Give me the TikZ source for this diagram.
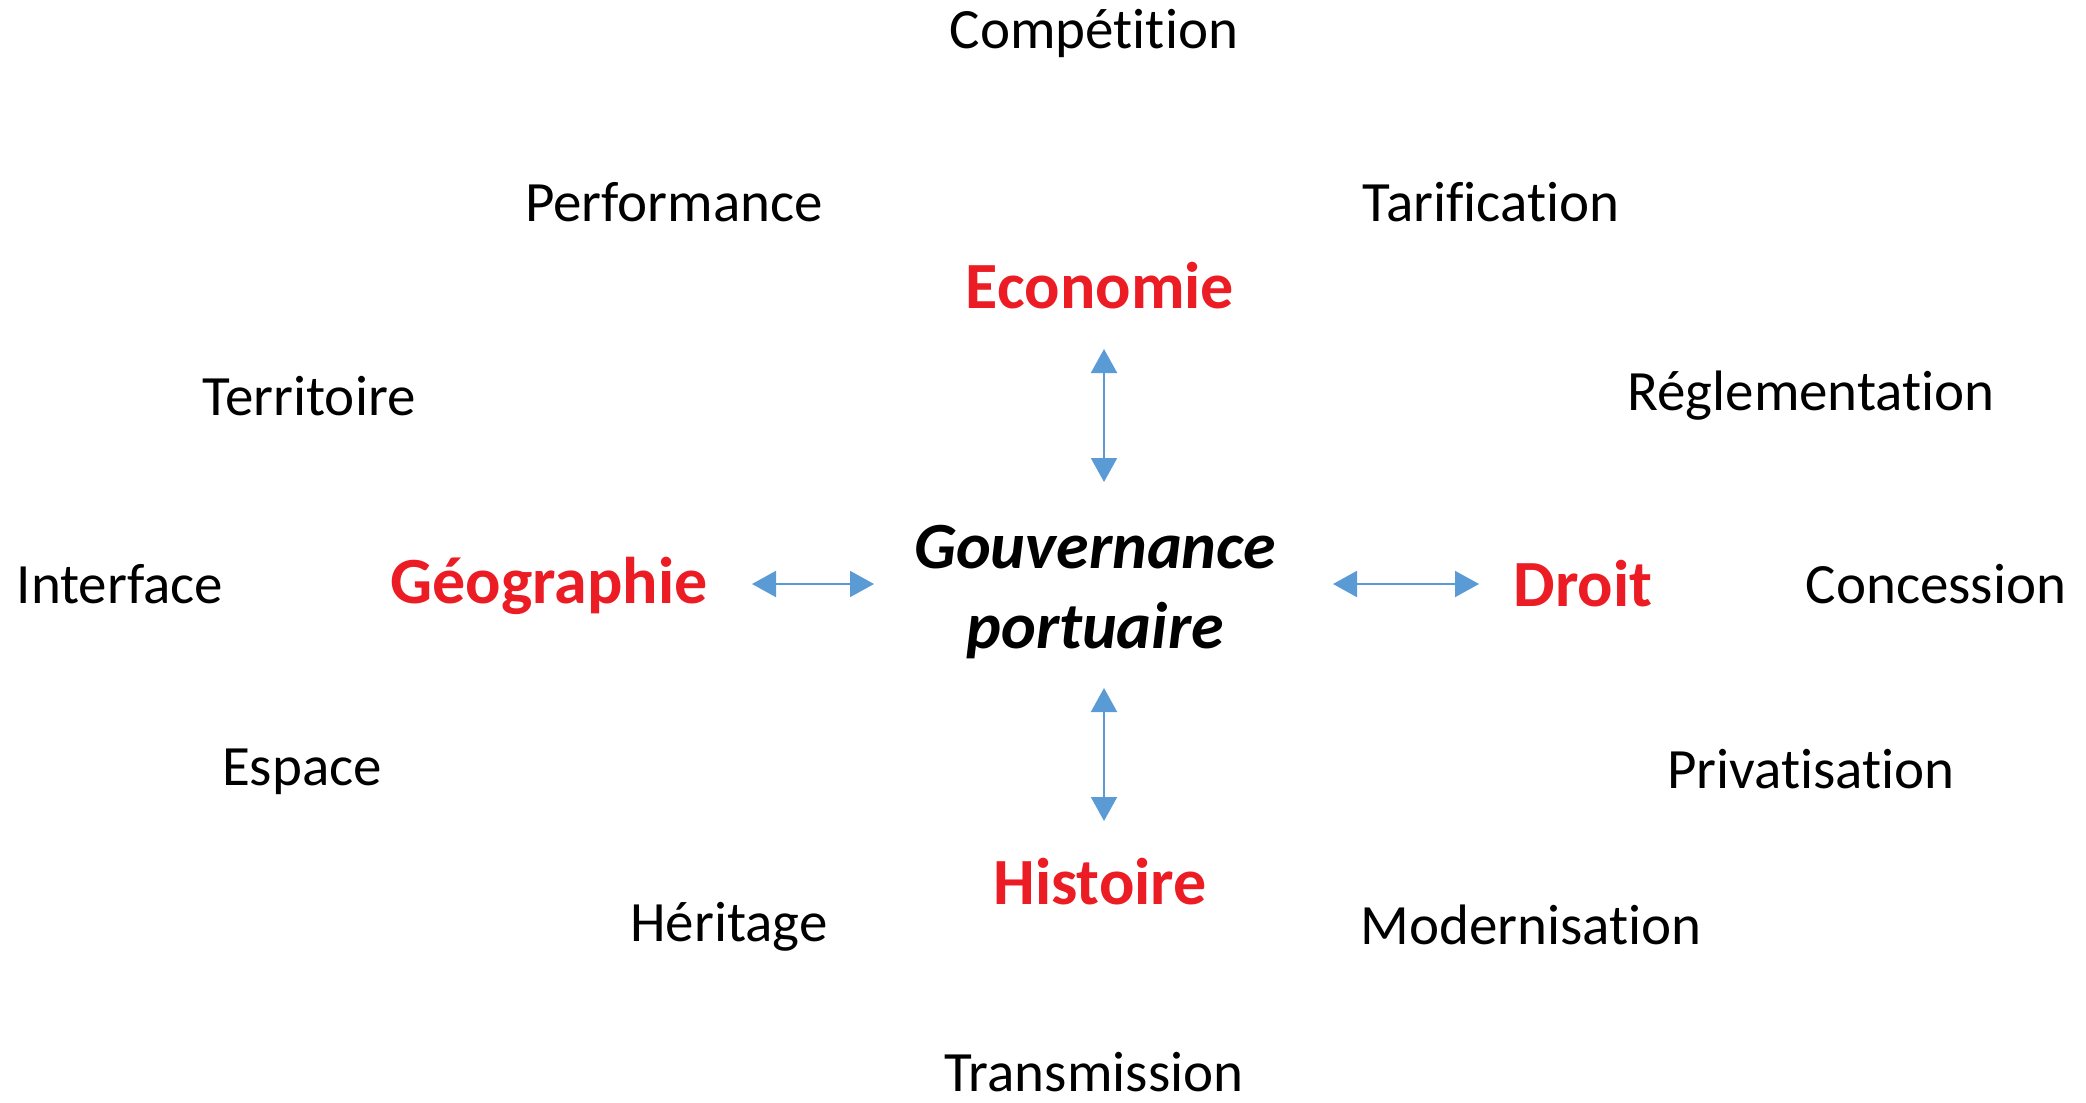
\documentclass[tikz,border=0pt]{standalone}
\usepackage{fontspec}
\setmainfont{Carlito}[Ligatures=NoCommon]
\usetikzlibrary{arrows.meta}
\definecolor{kwred}{RGB}{235,28,36}
\definecolor{arrblue}{RGB}{91,155,213}
\begin{document}
\begin{tikzpicture}[x=0.5pt,y=-0.5pt,
  word/.style={font=\fontsize{28.5}{34}\selectfont, text=black, inner sep=0pt},
  field/.style={font=\fontsize{33}{40}\selectfont\bfseries, text=kwred, inner sep=0pt},
  center/.style={font=\fontsize{33}{40}\selectfont\bfseries\itshape, align=center, inner sep=0pt},
  link/.style={draw=arrblue, line width=1pt, {Triangle[length=12pt,width=13pt]}-{Triangle[length=12pt,width=13pt]}}]
\useasboundingbox (0,0) rectangle (2086,1102);
\node[word] (comp) at (1094,33) {Compétition};
\node[word] (perf) at (674,202) {Performance};
\node[word] (tarif) at (1491,202) {Tarification};
\node[field] (eco) at (1100,286) {Economie};
\node[word] (terr) at (309,396) {Territoire};
\node[word] (regl) at (1811,396) {Réglementation};
\node[word] (inter) at (120,584) {Interface};
\node[field] (geo) at (549,586) {Géographie};
\node[center] (gouv) at (1095,592) {Gouvernance\\portuaire};
\node[field] (droit) at (1583,584) {Droit};
\node[word] (conc) at (1936,584) {Concession};
\node[word] (esp) at (302,772) {Espace};
\node[word] (priv) at (1811,769) {Privatisation};
\node[field] (hist) at (1100,882) {Histoire};
\node[word] (herit) at (729,927) {Héritage};
\node[word] (mod) at (1531,925) {Modernisation};
\node[word] (trans) at (1094,1072) {Transmission};
\coordinate (gl) at (874,584);
\coordinate (gr) at (1333,584);
\coordinate (gt) at (1104,482);
\coordinate (gb) at (1104,688);
\coordinate (geoR) at (752,584);
\coordinate (droitL) at (1479,584);
\coordinate (ecoB) at (1104,349);
\coordinate (histT) at (1104,821);
\draw[link] (geoR) -- (gl);
\draw[link] (gr) -- (droitL);
\draw[link] (ecoB) -- (gt);
\draw[link] (gb) -- (histT);
\end{tikzpicture}
\end{document}
